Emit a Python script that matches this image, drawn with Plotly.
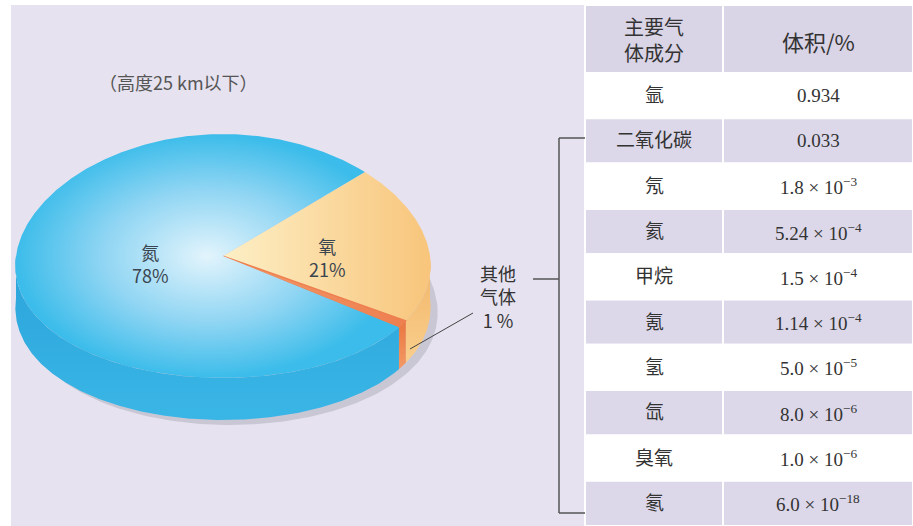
import numpy as np
import plotly.graph_objects as go

# pie data, listed clockwise starting from the upper edge of the oxygen slice
pie_names = ["氧", "其他气体", "氮"]
pie_shares = [21, 1, 78]
pie_top_colors = [
    [[0, "#fdefc6"], [1, "#f8c57b"]],
    [[0, "#f29a6a"], [1, "#ee7f4f"]],
    [[0, "#e2f4fc"], [0.55, "#8fd5f3"], [1, "#3bbcea"]],
]
pie_side_colors = [
    [[0, "#f9cf8c"], [1, "#f2b468"]],
    [[0, "#f39a66"], [1, "#e9763f"]],
    [[0, "#3ab6e6"], [1, "#2aa3da"]],
]

# table data
table_header = ["主要气<br>体成分", "体积/%"]
gas_names = ["氩", "二氧化碳", "氖", "氦", "甲烷", "氪", "氢", "氙", "臭氧", "氡"]
gas_volumes = [
    "0.934",
    "0.033",
    "1.8 × 10<sup>−3</sup>",
    "5.24 × 10<sup>−4</sup>",
    "1.5 × 10<sup>−4</sup>",
    "1.14 × 10<sup>−4</sup>",
    "5.0 × 10<sup>−5</sup>",
    "8.0 × 10<sup>−6</sup>",
    "1.0 × 10<sup>−6</sup>",
    "6.0 × 10<sup>−18</sup>",
]

LAV = "#e6e2ef"
cx, cy, rx, ry, h = 223, 256, 207, 122, 42
persp = 0.08   # front half drawn a little wider than the back
start = 43.5


def pt(a, dy=0.0):
    a = np.radians(a)
    s = np.sin(a)
    return cx + rx * np.cos(a) * (1 - persp * s), cy - ry * s + dy


def arc(a0, a1, dy=0.0, n=None):
    n = n or max(4, int(abs(a1 - a0) * 2))
    t = np.linspace(a0, a1, n)
    x, y = pt(t, dy)
    return list(x), list(y)


fig = go.Figure()

# soft shadow under the pie
sx, sy = arc(0, 360, h + 5, 400)
fig.add_trace(go.Scatter(x=[v + 7 for v in sx], y=sy, fill="toself", mode="lines",
                         line=dict(width=0), fillcolor="rgba(150,148,165,0.35)",
                         hoverinfo="skip", showlegend=False))

# slice angles
bounds = []
acc = start
for s in pie_shares:
    a0 = acc
    a1 = acc - 360 * s / sum(pie_shares)
    bounds.append((a0, a1))
    acc = a1

# front side walls (only the part of the rim facing the viewer)
for (a0, a1), cs in zip(bounds, pie_side_colors):
    lo, hi = min(a0, a1), max(a0, a1)
    for k in (-1, 0, 1):
        f_lo, f_hi = -180 + 360 * k, 360 * k
        s_lo, s_hi = max(lo, f_lo), min(hi, f_hi)
        if s_hi - s_lo <= 0:
            continue
        tx, ty = arc(s_hi, s_lo)
        bx, by = arc(s_lo, s_hi, h)
        fig.add_trace(go.Scatter(x=tx + bx, y=ty + by, fill="toself", mode="lines",
                                 line=dict(width=0),
                                 fillgradient=dict(type="vertical", colorscale=cs),
                                 hoverinfo="skip", showlegend=False))

# top faces
for i, ((a0, a1), cs) in enumerate(zip(bounds, pie_top_colors)):
    ax_, ay_ = arc(a0, a1)
    xs = [cx] + ax_ + [cx]
    ys = [cy] + ay_ + [cy]
    gtype = "radial" if pie_names[i] == "氮" else "horizontal"
    line = dict(width=1.2, color="#ee7f4f") if pie_names[i] == "其他气体" else dict(width=0)
    fig.add_trace(go.Scatter(x=xs, y=ys, fill="toself", mode="lines", line=line,
                             fillgradient=dict(type=gtype, colorscale=cs),
                             name=pie_names[i], hoverinfo="name", showlegend=False))

shapes = [
    dict(type="rect", xref="x", yref="y", x0=11, x1=585, y0=5, y1=526,
         fillcolor=LAV, line=dict(width=0), layer="below"),
]
annotations = []

# table drawn as cells
tx0, tmid, tx1 = 585, 723, 913
head_top, head_bot = 5, 73
row_h = (526 - head_bot) / len(gas_names)
cell_line = dict(color="white", width=2)
tab_font = dict(family="Liberation Serif, Noto Sans CJK SC", size=19, color="#333")

for c, (x0, x1) in enumerate([(tx0, tmid), (tmid, tx1)]):
    shapes.append(dict(type="rect", xref="x", yref="y", x0=x0, x1=x1, y0=head_top, y1=head_bot,
                       fillcolor="#d9d4e6", line=cell_line, layer="below"))
annotations.append(dict(x=(tx0 + tmid) / 2, y=(head_top + head_bot) / 2, text=table_header[0],
                        showarrow=False,
                        font=dict(family="Noto Sans CJK SC", size=20, color="#333")))
annotations.append(dict(x=(tmid + tx1) / 2, y=(head_top + head_bot) / 2 + 2, text=table_header[1],
                        showarrow=False,
                        font=dict(family="Noto Sans CJK SC", size=22, color="#333")))

for i, (name, vol) in enumerate(zip(gas_names, gas_volumes)):
    y0 = head_bot + i * row_h
    y1 = y0 + row_h
    fill = "#ffffff" if i % 2 == 0 else "#dcd8e9"
    for x0, x1 in [(tx0, tmid), (tmid, tx1)]:
        shapes.append(dict(type="rect", xref="x", yref="y", x0=x0, x1=x1, y0=y0, y1=y1,
                           fillcolor=fill, line=cell_line, layer="below"))
    annotations.append(dict(x=(tx0 + tmid) / 2, y=(y0 + y1) / 2, text=name, showarrow=False,
                            font=tab_font))
    annotations.append(dict(x=(tmid + tx1) / 2, y=(y0 + y1) / 2, text=vol, showarrow=False,
                            font=tab_font))

# bracket and leader line
bk = dict(type="line", xref="x", yref="y", line=dict(color="#555", width=1.5))
shapes += [
    dict(bk, x0=559, x1=559, y0=138, y1=513),
    dict(bk, x0=559, x1=585, y0=138, y1=138),
    dict(bk, x0=559, x1=585, y0=513, y1=513),
    dict(bk, x0=533, x1=559, y0=279, y1=279),
    dict(type="line", xref="x", yref="y", x0=410, y0=349, x1=473, y1=313,
         line=dict(color="#444", width=1)),
]

lab_font = dict(family="Noto Sans CJK SC", size=18, color="#3b4550")
annotations += [
    dict(x=178, y=82, text="（高度25 km以下）", showarrow=False,
         font=dict(family="Noto Sans CJK SC", size=18, color="#555")),
    dict(x=150, y=263, text=f"{pie_names[2]}<br>{pie_shares[2]}%", showarrow=False, font=lab_font),
    dict(x=327, y=257, text=f"{pie_names[0]}<br>{pie_shares[0]}%", showarrow=False, font=lab_font),
    dict(x=498, y=296, text=f"其他<br>气体<br>{pie_shares[1]} %", showarrow=False,
         font=dict(family="Noto Sans CJK SC", size=18, color="#333")),
]

fig.update_layout(
    width=913, height=526,
    margin=dict(l=0, r=0, t=0, b=0),
    paper_bgcolor="white", plot_bgcolor="rgba(0,0,0,0)",
    xaxis=dict(range=[0, 913], visible=False, fixedrange=True),
    yaxis=dict(range=[526, 0], visible=False, fixedrange=True),
    shapes=shapes, annotations=annotations,
    showlegend=False,
)

# drop the browser's default body margin so the figure fills the window
fig.write_html("out.html", config={"displayModeBar": False},
               post_script="document.body.style.margin='0px';")
